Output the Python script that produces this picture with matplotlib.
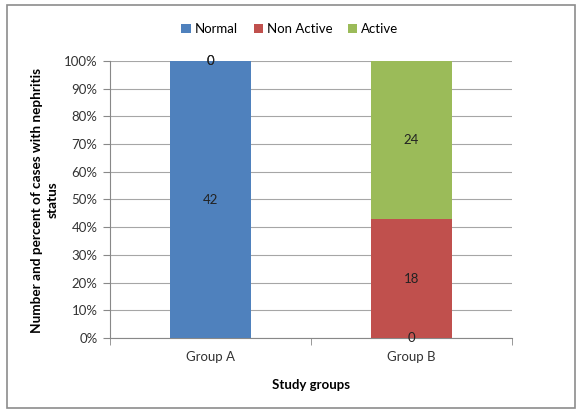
import matplotlib
matplotlib.use("Agg")
import matplotlib.pyplot as plt
import numpy as np

groups = ["Group A", "Group B"]
series = ["Normal", "Non Active", "Active"]
normal = [42, 0]
non_active = [0, 18]
active = [0, 24]
colors = ["#4F81BD", "#C0504D", "#9BBB59"]
yticks = [0, 10, 20, 30, 40, 50, 60, 70, 80, 90, 100]
ylabel_lines = ["Number and percent of cases with nephritis", "status"]

plt.rcParams["font.family"] = ["Lato", "DejaVu Sans"]

fig = plt.figure(figsize=(5.77, 4.11), dpi=100)
fig.patch.set_facecolor("white")
# outer frame
fig.add_artist(plt.Rectangle((7 / 577, 3 / 411), 568 / 577, 403 / 411,
                             transform=fig.transFigure, fill=False,
                             edgecolor="#8c8c8c", linewidth=1.2))

ax = fig.add_axes([110 / 577, 1 - 338 / 411, 402 / 577, 277 / 411])

vals = np.array([normal, non_active, active], dtype=float)
totals = vals.sum(axis=0)
pct = vals / totals * 100
x = np.arange(len(groups))
bottom = np.zeros(len(groups))
for i, name in enumerate(series):
    ax.bar(x, pct[i], 0.4, bottom=bottom, color=colors[i], label=name, zorder=3)
    for j in range(len(groups)):
        ax.text(x[j], bottom[j] + pct[i][j] / 2, f"{int(vals[i][j])}",
                ha="center", va="center", fontsize=9.5, color="#222222", zorder=4)
    bottom += pct[i]

ax.set_xlim(-0.5, len(groups) - 0.5)
ax.set_ylim(0, 100)
ax.set_yticks(yticks)
ax.set_yticklabels([f"{t}%" for t in yticks], fontsize=9.5, color="#333333")
ax.set_xticks(x)
ax.set_xticklabels(groups, fontsize=9.5, color="#333333")
ax.set_xticks([-0.5, 0.5, 1.5], minor=True)
ax.tick_params(axis="x", which="major", length=0, pad=9)
ax.tick_params(axis="x", which="minor", length=5, color="#888888", direction="out")
ax.tick_params(axis="y", length=5, color="#888888", direction="out", pad=4)
ax.grid(axis="y", color="#a6a6a6", linewidth=0.8, zorder=0)
for s in ["top", "right"]:
    ax.spines[s].set_visible(False)
ax.spines["left"].set_color("#888888")
ax.spines["bottom"].set_color("#888888")

ax.set_xlabel("Study groups", fontsize=9.5, fontweight="bold", labelpad=12)
# two-line vertical axis title, each line centred on the plot
for k, line in enumerate(ylabel_lines):
    fig.text((37 + 16 * k) / 577, 1 - 200 / 411, line, rotation=90,
             ha="center", va="center", fontsize=9.8, fontweight="bold")

fig.legend(loc="center", bbox_to_anchor=(290 / 577, 1 - 29 / 411), ncol=3,
           frameon=False, fontsize=9.5, handlelength=0.7, handleheight=0.7,
           handletextpad=0.3, columnspacing=1.2)

fig.savefig("out.png", dpi=100)
